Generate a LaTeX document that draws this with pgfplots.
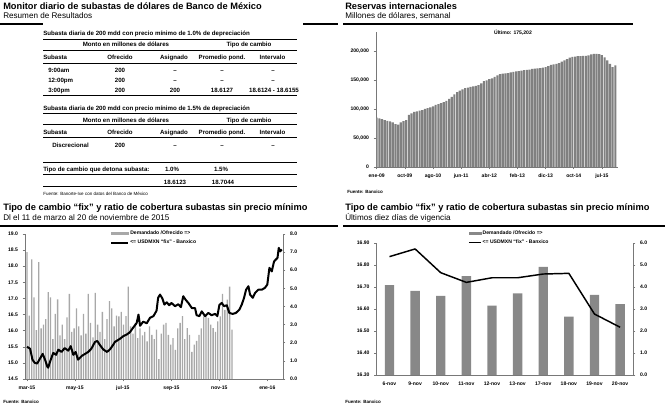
\documentclass[border=0pt]{standalone}
\usepackage{fontspec}
\setmainfont{Liberation Sans}
\usepackage{pgfplots}
\pgfplotsset{compat=1.18}
\usepackage{pgfplotstable}

\definecolor{barTR}{RGB}{128,128,128}
\definecolor{barBL}{RGB}{168,168,168}
\definecolor{barBR}{RGB}{136,136,136}
\definecolor{axgray}{RGB}{120,120,120}

\newcommand{\tfont}{\fontsize{6.95}{7.5}\selectfont\bfseries}
\newcommand{\sfont}{\fontsize{6.1}{7}\selectfont}
\newcommand{\tabf}{\fontsize{4.6}{5.2}\selectfont\bfseries}
\newcommand{\tickf}{\fontsize{3.8}{4.5}\selectfont\bfseries}
\newcommand{\srcf}{\fontsize{3.4}{4}\selectfont}

\pgfplotstableread{
w v
0 85000
4 84000
8 82500
12 81000
16 79500
20 78500
24 77000
28 74000
32 73000
36 77000
40 79000
44 81000
48 90000
52 92500
56 95000
60 96000
64 97000
68 98000
72 100000
76 101500
80 103000
84 104500
88 107000
92 108500
96 110000
100 112000
104 114000
108 117500
112 121000
116 125000
120 129000
124 131500
128 134000
132 136000
136 137000
140 138000
144 139000
148 140000
152 141000
156 144000
160 148000
164 149500
168 151500
172 153000
176 155500
180 158000
184 160000
188 161000
192 161500
196 162000
200 163000
204 164000
208 165000
212 165500
216 166000
220 167000
224 167500
228 168000
232 169000
236 169500
240 170000
244 170500
248 171500
252 172000
256 174000
260 176000
264 177000
268 178000
272 179000
276 181500
280 184000
284 186000
288 188500
292 190000
296 190500
300 191000
304 191000
308 191500
312 191500
316 192500
320 194000
324 195000
328 195000
332 194500
336 193000
340 189000
344 184000
348 178000
352 172000
356 175202
}\reservas

\pgfplotstableread{
d r
0 7.0
3 3.5
6 6.6
9 4.5
12 2.7
15 6.45
18 2.8
21 3.0
24 3.3
27 4.8
30 4.5
33 2.2
36 3.6
39 4.4
42 2.4
45 3.0
48 2.2
51 3.4
54 4.7
57 2.6
60 2.8
63 3.9
66 2.9
69 2.4
72 3.6
75 2.5
78 4.7
81 3.1
84 2.3
87 4.75
90 3.0
93 2.6
96 3.7
99 2.2
102 3.3
105 4.3
108 3.9
111 2.9
114 3.5
117 3.46
120 3.7
123 3.0
126 3.47
129 5.1
132 2.9
135 2.5
138 3.1
141 2.26
144 2.8
147 2.4
150 2.6
153 2.08
156 2.9
159 2.44
162 2.2
165 2.72
168 1.1
171 2.5
174 3.0
177 3.1
180 2.44
183 1.9
186 2.26
189 1.6
192 2.8
195 3.1
198 3.47
201 2.2
204 2.81
207 2.44
210 1.5
213 1.9
216 2.1
219 2.44
222 2.8
225 3.46
228 3.55
231 3.37
234 3.0
237 2.81
240 2.6
243 3.18
246 3.46
249 4.7
252 3.82
255 4.38
258 5.1
261 2.72
}\ratioBL

\pgfplotstableread{
d v
0 15.50
4 15.44
7 15.10
10 15.00
13 14.98
17 15.15
20 15.28
23 15.10
26 14.88
27 14.85
30 15.08
33.5 15.31
37 15.25
40 15.41
44 15.34
48 15.46
52.6 15.38
55.7 15.52
59 15.25
62 15.34
65 15.10
70 15.22
74 15.28
78 15.34
82 15.44
86.6 15.65
89.6 15.68
93 15.55
97 15.42
102 15.34
105.7 15.42
109.5 15.55
112 15.65
118.5 15.75
122.7 15.83
127 15.88
131 15.95
135.4 16.10
139.7 16.24
142 16.50
144 16.15
148 16.28
152.5 16.23
156.7 16.40
161 16.45
165 16.62
167 17.02
169.4 17.12
172.4 17.00
175 16.81
178 16.88
181 16.79
184 16.86
188.5 16.76
192.7 16.82
196 16.73
199 17.07
202 16.96
205.5 16.86
210 16.70
214 16.70
216 16.48
219.5 16.45
222.5 16.60
226.8 16.45
231 16.55
235 16.48
239.5 16.52
242.4 16.45
245 16.80
248 16.86
251 16.76
254.4 16.79
257.7 16.55
262 16.52
266 16.55
270.4 16.65
273.5 16.81
276.4 17.02
279 17.27
282 17.38
284 17.12
287.5 17.02
290.4 17.17
294.6 17.27
299 17.27
303 17.33
306 17.43
308.7 17.95
311.7 17.84
314.6 18.15
317 18.21
319 18.26
320.6 18.57
322.3 18.46
324.5 18.52
}\fixBL

\pgfplotsset{
  excel/.style={
    scale only axis,
    axis line style={axgray, line width=0.5pt, -},
    tick style={axgray, line width=0.4pt},
    major tick length=1.8pt,
    tick align=outside,
    tick label style={font=\tickf},
    /pgf/number format/assume math mode=true,
  },
}

\begin{document}
\begin{tikzpicture}
\useasboundingbox (0pt,0pt) rectangle (498.75pt,-306.75pt);

% ---------- Top-right: reservas ----------
\begin{axis}[excel,
  at={(282pt,-125.25pt)}, anchor=south west,
  width=181.5pt, height=101.25pt,
  xmin=-1, xmax=360, ymin=0, ymax=232760,
  axis x line*=bottom, axis y line*=left,
  ytick={0,50000,100000,150000,200000},
  yticklabel style={/pgf/number format/.cd, fixed, 1000 sep={,}},
  scaled y ticks=false,
  xtick={0,42,84,126,168,210,252,294,336},
  xticklabels={ene-09,oct-09,ago-10,jun-11,abr-12,feb-13,dic-13,oct-14,jul-15},
  ybar, bar width=1.6pt,
]
\addplot[fill=barTR, draw=none] table[x=w,y=v]{\reservas};
\end{axis}

% ---------- Bottom-left: bars (right axis) ----------
\begin{axis}[excel,
  at={(18.75pt,-284.25pt)}, anchor=south west,
  width=193.5pt, height=108.75pt,
  xmin=-2.5, xmax=326, ymin=0, ymax=8,
  axis y line*=right, axis x line=none,
  ytick={0,1,2,3,4,5,6,7,8},
  yticklabel style={/pgf/number format/.cd, fixed, fixed zerofill, precision=1},
  ybar, bar width=1.0pt,
]
\addplot[fill=barBL, draw=none] table[x=d,y=r]{\ratioBL};
\end{axis}

% ---------- Bottom-left: line (left axis) ----------
\begin{axis}[excel,
  at={(18.75pt,-284.25pt)}, anchor=south west,
  width=193.5pt, height=108.75pt,
  xmin=-2.5, xmax=326, ymin=14.5, ymax=19,
  axis y line*=left, axis x line*=bottom,
  ytick={14.5,15,15.5,16,16.5,17,17.5,18,18.5,19},
  yticklabel style={/pgf/number format/.cd, fixed, fixed zerofill, precision=1},
  xtick={0,61,122,184,245,306},
  xticklabels={mar-15,may-15,jul-15,sep-15,nov-15,ene-16},
  legend style={at={(0.329,1.034)}, anchor=north west, draw=none, fill=none,
    font=\tickf, inner sep=0pt, row sep=1.2pt, nodes={inner sep=0.8pt}},
  legend cell align=left,
]
\addlegendimage{legend image code/.code={\fill[barBL] (0pt,-0.9pt) rectangle (13pt,0.9pt);}}
\addlegendentry{Demandado /Ofrecido =>}
\addplot[black, line width=1.5pt, line join=round,
  legend image code/.code={\draw[black,line width=1.3pt] (0pt,0pt)--(13pt,0pt);}]
  table[x=d,y=v]{\fixBL};
\addlegendentry{<= USDMXN “fix” - Banxico}
\end{axis}

% ---------- Bottom-right: bars (right axis) ----------
\begin{axis}[excel,
  at={(282.5pt,-281.25pt)}, anchor=south west,
  width=192.2pt, height=99pt,
  xmin=-0.5, xmax=9.5, ymin=0, ymax=6,
  axis y line*=right, axis x line=none,
  ytick={0,1,2,3,4,5,6},
  yticklabel style={/pgf/number format/.cd, fixed, fixed zerofill, precision=1},
  ybar, bar width=7pt,
]
\addplot[fill=barBR, draw=none] coordinates {
  (0,4.09) (1,3.82) (2,3.60) (3,4.50) (4,3.15)
  (5,3.71) (6,4.92) (7,2.65) (8,3.64) (9,3.22)};
\end{axis}

% ---------- Bottom-right: line (left axis) ----------
\begin{axis}[excel,
  at={(282.5pt,-281.25pt)}, anchor=south west,
  width=192.2pt, height=99pt,
  xmin=-0.5, xmax=9.5, ymin=16.3, ymax=16.9,
  axis y line*=left, axis x line*=bottom,
  ytick={16.3,16.4,16.5,16.6,16.7,16.8,16.9},
  yticklabel style={/pgf/number format/.cd, fixed, fixed zerofill, precision=2},
  xtick={0,1,2,3,4,5,6,7,8,9},
  xticklabels={6-nov,9-nov,10-nov,11-nov,12-nov,13-nov,17-nov,18-nov,19-nov,20-nov},
  xtick style={draw=none},
  legend style={at={(0.356,1.106)}, anchor=north west, draw=none, fill=none,
    font=\tickf, inner sep=0pt, row sep=1.2pt, nodes={inner sep=0.8pt}},
  legend cell align=left,
]
\addlegendimage{legend image code/.code={\fill[barBR] (0pt,-0.9pt) rectangle (9pt,0.9pt);}}
\addlegendentry{Demandado /Ofrecido =>}
\addplot[black, line width=1.1pt, line join=round,
  legend image code/.code={\draw[black,line width=1.1pt] (0pt,0pt)--(9pt,0pt);}]
  coordinates {
  (0,16.838) (1,16.873) (2,16.765) (3,16.721) (4,16.742)
  (5,16.742) (6,16.759) (7,16.762) (8,16.577) (9,16.517)};
\addlegendentry{<= USDMXN “fix” - Banxico}
\end{axis}

% ---------- Texts and rules ----------
\begin{scope}[x=0.75pt, y=-0.75pt]
  % titles
  \node[anchor=base west, inner sep=0] at (3,9.3) {\tfont Monitor diario de subastas de dólares de Banco de México};
  \node[anchor=base west, inner sep=0] at (3,18.6) {\sfont Resumen de Resultados};
  \node[anchor=base west, inner sep=0] at (345,9.3) {\tfont Reservas internacionales};
  \node[anchor=base west, inner sep=0] at (345,18.6) {\sfont Millones de dólares, semanal};
  \node[anchor=base west, inner sep=0] at (3,210.5) {\tfont Tipo de cambio “fix” y ratio de cobertura subastas sin precio mínimo};
  \node[anchor=base west, inner sep=0] at (3,220.8) {\sfont Dl el 11 de marzo al 20 de noviembre de 2015};
  \node[anchor=base west, inner sep=0] at (345,210.5) {\tfont Tipo de cambio “fix” y ratio de cobertura subastas sin precio mínimo};
  \node[anchor=base west, inner sep=0] at (345,220.8) {\sfont Últimos diez días de vigencia};
  % panel rules
  \draw[line width=0.8pt] (0,24) -- (43,24);
  \draw[line width=0.8pt] (303,24) -- (338,24);
  \draw[line width=0.8pt] (343,24) -- (633,24);
  \draw[line width=0.8pt] (0,226) -- (338,226);
  \draw[line width=0.8pt] (343,226) -- (665,226);
  % Último
  \node[anchor=base, inner sep=0] at (513,35) {\tickf Último: 175,202};
  % sources
  \node[anchor=base west, inner sep=0] at (43,195.5) {\srcf Fuente: Banorte-Ixe con datos del Banco de México};
  \node[anchor=base west, inner sep=0] at (347,193.5) {\srcf\bfseries Fuente: Banxico};
  \node[anchor=base west, inner sep=0] at (3,404) {\srcf\bfseries Fuente: Banxico};
  \node[anchor=base west, inner sep=0] at (345,404) {\srcf\bfseries Fuente: Banxico};
  % ---- table 1 ----
  \node[anchor=base west, inner sep=0] at (43,35.5) {\tabf Subasta diaria de 200 mdd con precio mínimo de 1.0\% de depreciación};
  \draw[line width=1pt] (43,39.3) -- (297,39.3);
  \node[anchor=base, inner sep=0] at (126,46.2) {\tabf Monto en millones de dólares};
  \node[anchor=base, inner sep=0] at (249,46.2) {\tabf Tipo de cambio};
  \draw[line width=0.4pt] (43,50) -- (297,50);
  \node[anchor=base west, inner sep=0] at (43,59.5) {\tabf Subasta};
  \node[anchor=base, inner sep=0] at (120,59.5) {\tabf Ofrecido};
  \node[anchor=base, inner sep=0] at (174,59.5) {\tabf Asignado};
  \node[anchor=base, inner sep=0] at (222,59.5) {\tabf Promedio pond.};
  \node[anchor=base, inner sep=0] at (272.5,59.5) {\tabf Intervalo};
  \draw[line width=1pt] (43,63.3) -- (297,63.3);
  \node[anchor=base west, inner sep=0] at (48,72.2) {\tabf 9:00am};
  \node[anchor=base, inner sep=0] at (120,72.2) {\tabf 200};
  \node[anchor=base, inner sep=0] at (175,72.2) {\tabf --};
  \node[anchor=base, inner sep=0] at (222,72.2) {\tabf --};
  \node[anchor=base, inner sep=0] at (273,72.2) {\tabf --};
  \node[anchor=base west, inner sep=0] at (48,82.2) {\tabf 12:00pm};
  \node[anchor=base, inner sep=0] at (120,82.2) {\tabf 200};
  \node[anchor=base, inner sep=0] at (175,82.2) {\tabf --};
  \node[anchor=base, inner sep=0] at (222,82.2) {\tabf --};
  \node[anchor=base, inner sep=0] at (273,82.2) {\tabf --};
  \node[anchor=base west, inner sep=0] at (48,92.2) {\tabf 3:00pm};
  \node[anchor=base, inner sep=0] at (120,92.2) {\tabf 200};
  \node[anchor=base, inner sep=0] at (175,92.2) {\tabf 200};
  \node[anchor=base, inner sep=0] at (222,92.2) {\tabf 18.6127};
  \node[anchor=base, inner sep=0] at (274,92.2) {\tabf 18.6124 - 18.6155};
  \draw[line width=0.6pt] (43,95.7) -- (297,95.7);
  % ---- table 2 ----
  \node[anchor=base west, inner sep=0] at (43,110.5) {\tabf Subasta diaria de 200 mdd con precio mínimo de 1.5\% de depreciación};
  \draw[line width=1pt] (43,113.3) -- (297,113.3);
  \node[anchor=base, inner sep=0] at (126,122.2) {\tabf Monto en millones de dólares};
  \node[anchor=base, inner sep=0] at (249,122.2) {\tabf Tipo de cambio};
  \draw[line width=0.4pt] (43,124.3) -- (297,124.3);
  \node[anchor=base west, inner sep=0] at (43,134.5) {\tabf Subasta};
  \node[anchor=base, inner sep=0] at (120,134.5) {\tabf Ofrecido};
  \node[anchor=base, inner sep=0] at (174,134.5) {\tabf Asignado};
  \node[anchor=base, inner sep=0] at (222,134.5) {\tabf Promedio pond.};
  \node[anchor=base, inner sep=0] at (272.5,134.5) {\tabf Intervalo};
  \draw[line width=1pt] (43,137.3) -- (297,137.3);
  \node[anchor=base west, inner sep=0] at (52,147.2) {\tabf Discrecional};
  \node[anchor=base, inner sep=0] at (120,147.2) {\tabf 200};
  \node[anchor=base, inner sep=0] at (175,147.2) {\tabf --};
  \node[anchor=base, inner sep=0] at (222,147.2) {\tabf --};
  \node[anchor=base, inner sep=0] at (273,147.2) {\tabf --};
  \draw[line width=1pt] (43,162.7) -- (297,162.7);
  \node[anchor=base west, inner sep=0] at (43,171.2) {\tabf Tipo de cambio que detona subasta:};
  \node[anchor=base, inner sep=0] at (172,171.2) {\tabf 1.0\%};
  \node[anchor=base, inner sep=0] at (221,171.2) {\tabf 1.5\%};
  \draw[line width=0.6pt] (43,174.3) -- (297,174.3);
  \node[anchor=base, inner sep=0] at (175,184.5) {\tabf 18.6123};
  \node[anchor=base, inner sep=0] at (223,184.5) {\tabf 18.7044};
  \draw[line width=0.6pt] (43,186.9) -- (297,186.9);
\end{scope}
\end{tikzpicture}
\end{document}
